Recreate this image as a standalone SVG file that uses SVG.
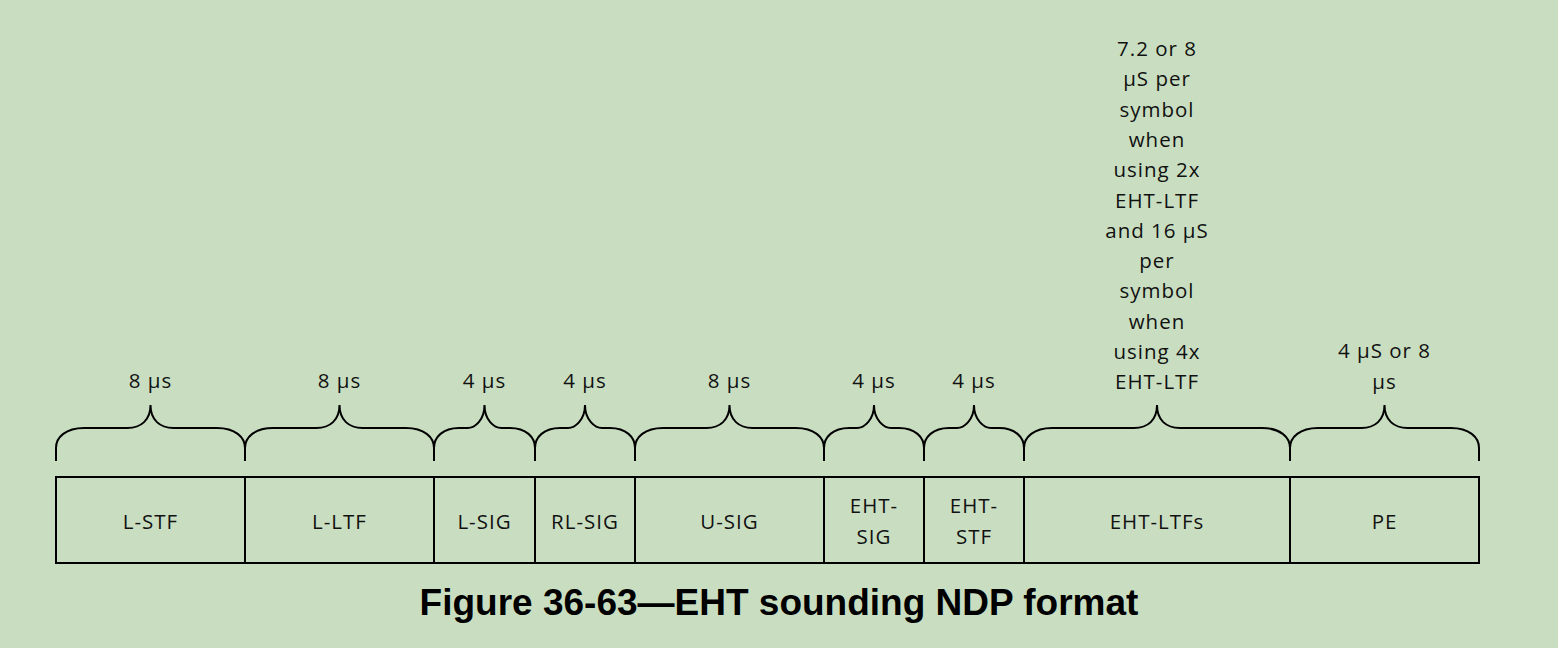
<svg xmlns="http://www.w3.org/2000/svg" width="1558" height="648" viewBox="0 0 1558 648">
<style>
.bg{fill:#C9DEC1}
.box{fill:none;stroke:#000;stroke-width:2}
.br{fill:none;stroke:#000;stroke-width:2}
.t{font-family:"Open Sans","Liberation Sans",sans-serif;font-size:20.5px;fill:#111;text-anchor:middle;letter-spacing:1px}
.title{font-family:"Liberation Sans",Arial,sans-serif;font-size:37px;font-weight:bold;fill:#000;text-anchor:middle}
</style>
<rect class="bg" x="0" y="0" width="1558" height="648"/>
<g id="fields">
<g id="l-stf"><rect class="box" x="56" y="477" width="189" height="86"/><text class="t" x="150.5" y="529">L-STF</text></g>
<g id="l-ltf"><rect class="box" x="245" y="477" width="189" height="86"/><text class="t" x="339.5" y="529">L-LTF</text></g>
<g id="l-sig"><rect class="box" x="434" y="477" width="101" height="86"/><text class="t" x="484.5" y="529">L-SIG</text></g>
<g id="rl-sig"><rect class="box" x="535" y="477" width="100" height="86"/><text class="t" x="585" y="529">RL-SIG</text></g>
<g id="u-sig"><rect class="box" x="635" y="477" width="189" height="86"/><text class="t" x="729.5" y="529">U-SIG</text></g>
<g id="eht-sig"><rect class="box" x="824" y="477" width="100" height="86"/><text class="t" x="874" y="513">EHT-<tspan x="874" dy="31">SIG</tspan></text></g>
<g id="eht-stf"><rect class="box" x="924" y="477" width="100" height="86"/><text class="t" x="974" y="513">EHT-<tspan x="974" dy="31">STF</tspan></text></g>
<g id="eht-ltfs"><rect class="box" x="1024" y="477" width="266" height="86"/><text class="t" x="1157" y="529">EHT-LTFs</text></g>
<g id="pe"><rect class="box" x="1290" y="477" width="189" height="86"/><text class="t" x="1384.5" y="529">PE</text></g>
</g>
<g id="braces">
<path class="br" d="M56 461V448C56 437 66 428 84 428H127.5C141 428 150.5 420 150.5 405C150.5 420 160 428 173.5 428H217C235 428 245 437 245 448V461"/>
<path class="br" d="M245 461V448C245 437 255 428 273 428H316.5C330 428 339.5 420 339.5 405C339.5 420 349 428 362.5 428H406C424 428 434 437 434 448V461"/>
<path class="br" d="M434 461V448C434 437 443 428 459 428H467.5C475 428 484.5 420 484.5 405C484.5 420 494 428 501.5 428H510C526 428 535 437 535 448V461"/>
<path class="br" d="M535 461V448C535 437 544 428 560 428H568C575 428 585 420 585 405C585 420 595 428 602 428H610C626 428 635 437 635 448V461"/>
<path class="br" d="M635 461V448C635 437 645 428 663 428H706.5C720 428 729.5 420 729.5 405C729.5 420 739 428 752.5 428H796C814 428 824 437 824 448V461"/>
<path class="br" d="M824 461V448C824 437 833 428 849 428H857C864 428 874 420 874 405C874 420 884 428 891 428H899C915 428 924 437 924 448V461"/>
<path class="br" d="M924 461V448C924 437 933 428 949 428H957C964 428 974 420 974 405C974 420 984 428 991 428H999C1015 428 1024 437 1024 448V461"/>
<path class="br" d="M1024 461V448C1024 437 1034 428 1052 428H1134C1148 428 1157 420 1157 405C1157 420 1166 428 1180 428H1262C1280 428 1290 437 1290 448V461"/>
<path class="br" d="M1290 461V448C1290 437 1300 428 1318 428H1361.5C1375 428 1384.5 420 1384.5 405C1384.5 420 1394 428 1407.5 428H1451C1469 428 1479 437 1479 448V461"/>
</g>
<g id="durations">
<text class="t" x="150.5" y="388">8 µs</text>
<text class="t" x="339.5" y="388">8 µs</text>
<text class="t" x="484.5" y="388">4 µs</text>
<text class="t" x="585" y="388">4 µs</text>
<text class="t" x="729.5" y="388">8 µs</text>
<text class="t" x="874" y="388">4 µs</text>
<text class="t" x="974" y="388">4 µs</text>
<text class="t" x="1157" y="56">7.2 or 8<tspan x="1157" dy="30.3">µS per</tspan><tspan x="1157" dy="30.3">symbol</tspan><tspan x="1157" dy="30.3">when</tspan><tspan x="1157" dy="30.3">using 2x</tspan><tspan x="1157" dy="30.3">EHT-LTF</tspan><tspan x="1157" dy="30.3">and 16 µS</tspan><tspan x="1157" dy="30.3">per</tspan><tspan x="1157" dy="30.3">symbol</tspan><tspan x="1157" dy="30.3">when</tspan><tspan x="1157" dy="30.3">using 4x</tspan><tspan x="1157" dy="30.3">EHT-LTF</tspan></text>
<text class="t" x="1384.5" y="358">4 µS or 8<tspan x="1384.5" dy="31">µs</tspan></text>
</g>
<text class="title" x="779" y="615">Figure 36-63—EHT sounding NDP format</text>
</svg>
